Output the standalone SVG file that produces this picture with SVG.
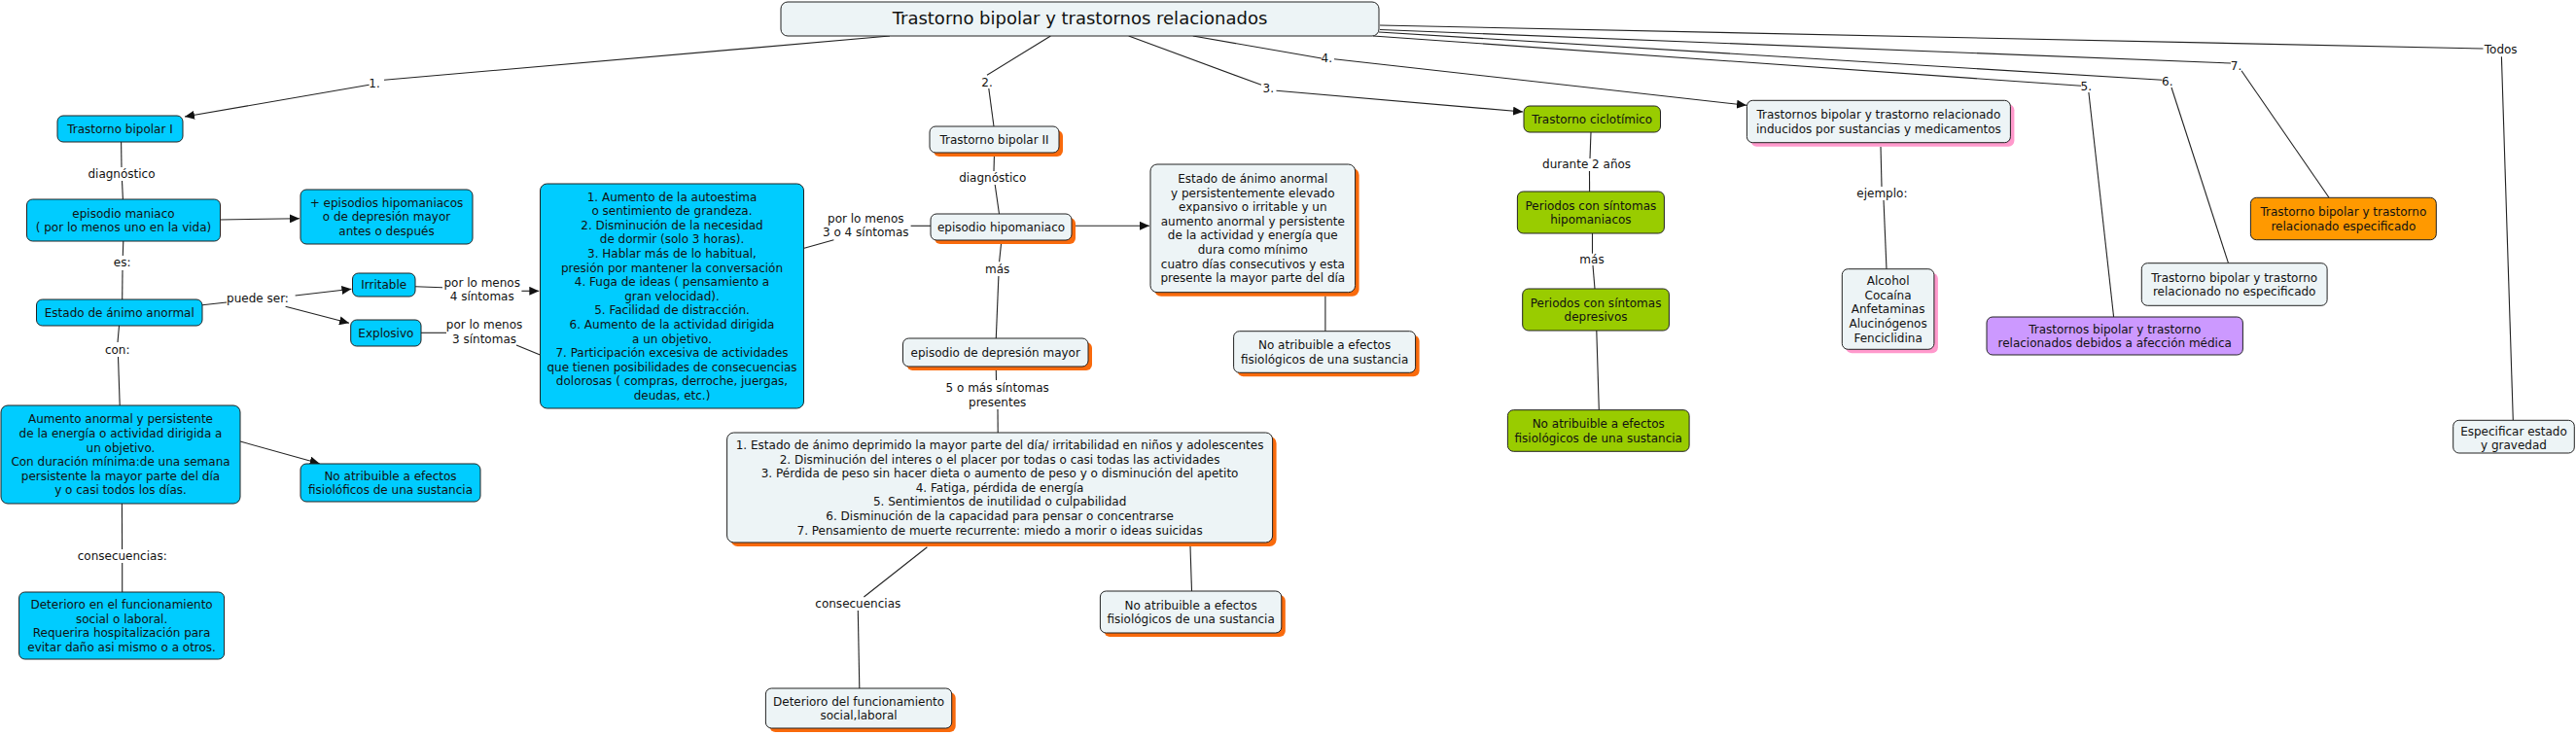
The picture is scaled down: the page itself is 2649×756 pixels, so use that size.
<svg xmlns="http://www.w3.org/2000/svg" width="2649" height="756" viewBox="0 0 2649 756">
<style>
text{font-family:"DejaVu Sans",Verdana,"Liberation Sans",sans-serif;font-size:12px;fill:#111;text-anchor:middle}
.title{font-size:18px}
.b{stroke:#222;stroke-width:1}
.cy{fill:#00ccff}
.lt{fill:#edf4f6}
.gr{fill:#99cc00}
.pu{fill:#cc99ff}
.or{fill:#ff9900}
.sho{fill:#f96a0c}
.shp{fill:#ff99cc}
#connectors path{stroke:#222;stroke-width:1.1;fill:none}
</style>
<defs>
<marker id="arr" viewBox="0 0 10 10" refX="10" refY="5" markerWidth="10" markerHeight="9" markerUnits="userSpaceOnUse" orient="auto" preserveAspectRatio="none"><path d="M0,0 L10,5 L0,10 z" fill="#111"/></marker>
</defs>
<rect width="2649" height="756" fill="#fff"/>

<g id="connectors">
<path d="M915,37 L395,82.3"/><path d="M379.6,87.3 L190,120" marker-end="url(#arr)"/>
<path d="M124.6,146 L125,172"/><path d="M125.5,186 L126.4,205"/>
<path d="M226,226 L308,224.7" marker-end="url(#arr)"/>
<path d="M126.8,248 L126.3,263"/><path d="M126,278 L125.7,308"/>
<path d="M208,313.7 L233,311"/>
<path d="M303.6,304 L361.4,297.3" marker-end="url(#arr)"/>
<path d="M293.6,315.3 L359,332.3" marker-end="url(#arr)"/>
<path d="M427,294.7 L455,295.7"/><path d="M536.4,299.3 L554.3,299.3" marker-end="url(#arr)"/>
<path d="M433,342.3 L459,342.3"/><path d="M531,355 L555.4,365"/>
<path d="M122.5,335 L121,352"/><path d="M121.5,367 L123.2,417"/>
<path d="M247,454 L328.6,476.7" marker-end="url(#arr)"/>
<path d="M125.4,518 L125.6,565"/><path d="M125.7,579 L125.7,609"/>
<path d="M1080.4,37 L1015,77.3"/><path d="M1016.8,91 L1022,130"/>
<path d="M1022.5,157 L1022,176"/><path d="M1023.2,190 L1027.5,220"/>
<path d="M957,232.3 L936.6,232.3"/><path d="M857.4,246.7 L827,255.3"/>
<path d="M1106,232.3 L1182,232.3" marker-end="url(#arr)"/>
<path d="M1029.5,251 L1027.6,269.3"/><path d="M1026.9,284 L1024.3,348"/>
<path d="M1024.3,381 L1024.5,391"/><path d="M1026,421 L1026.2,445"/>
<path d="M953.4,562.7 L888.4,614"/><path d="M882.3,628 L883.8,708"/>
<path d="M1224,562 L1225.5,608"/>
<path d="M1362.9,304.5 L1362.9,340.7"/>
<path d="M1160.7,37 L1297,87.3"/><path d="M1312.5,93.3 L1566,115" marker-end="url(#arr)"/>
<path d="M1226.8,37 L1359,60"/><path d="M1372,60.7 L1796,108.3" marker-end="url(#arr)"/>
<path d="M1636,136 L1635,163"/><path d="M1634.5,176 L1634.6,197"/>
<path d="M1637.5,240 L1637.5,260.7"/><path d="M1638,273 L1640,297"/>
<path d="M1641.8,340 L1644.3,421.7"/>
<path d="M1934,151 L1935,192"/><path d="M1937,206 L1940,276.7"/>
<path d="M1412,37 L2140,88.3"/><path d="M2147.9,95 L2173.6,326"/>
<path d="M1418,33 L2223.3,82.3"/><path d="M2233,90 L2291.5,270.7"/>
<path d="M1419,30.5 L2294,65"/><path d="M2305,72.7 L2395,203.3"/>
<path d="M1419,26 L2553.5,50"/><path d="M2572.4,58.3 L2584.3,432.3"/>
</g>

<g id="connector-labels">
<text x="385" y="90.3">1.</text>
<text x="125" y="183">diagnóstico</text>
<text x="125.7" y="274.3">es:</text>
<text x="265" y="311.3">puede ser:</text>
<text x="495.7" y="294.6">por lo menos<tspan x="495.7" dy="14.2">4 síntomas</tspan></text>
<text x="498" y="338.3">por lo menos<tspan x="498" dy="14.2">3 síntomas</tspan></text>
<text x="120.7" y="363.6">con:</text>
<text x="125.7" y="576">consecuencias:</text>
<text x="1015" y="88.6">2.</text>
<text x="1020.7" y="187">diagnóstico</text>
<text x="890.3" y="228.6">por lo menos<tspan x="890.3" dy="14.4">3 o 4 síntomas</tspan></text>
<text x="1025.7" y="281">más</text>
<text x="1025.7" y="403.3">5 o más síntomas<tspan x="1025.7" dy="14.3">presentes</tspan></text>
<text x="882.3" y="625">consecuencias</text>
<text x="1304.3" y="95">3.</text>
<text x="1364.3" y="63.6">4.</text>
<text x="1631.6" y="173">durante 2 años</text>
<text x="1637" y="271">más</text>
<text x="1935.4" y="202.6">ejemplo:</text>
<text x="2145.3" y="93.3">5.</text>
<text x="2228.8" y="87.6">6.</text>
<text x="2299.5" y="71.6">7.</text>
<text x="2571.7" y="55">Todos</text>
</g>

<g id="n-main"><rect class="b lt" x="803" y="2" width="615" height="35" rx="7"/>
<text class="title" x="1110.5" y="24.5">Trastorno bipolar y trastornos relacionados</text></g>

<g id="n-tb1"><rect class="b cy" x="59" y="119" width="129" height="27" rx="6"/>
<text x="123.5" y="136.8">Trastorno bipolar I</text></g>

<g id="n-maniaco"><rect class="b cy" x="27.5" y="205" width="199" height="43" rx="6"/>
<text x="127" y="223.5">episodio maniaco<tspan x="127" dy="14.6">( por lo menos uno en la vida)</tspan></text></g>

<g id="n-masepisodios"><rect class="b cy" x="309" y="195" width="177" height="56" rx="6"/>
<text x="397.5" y="212.7">+ episodios hipomaniacos<tspan x="397.5" dy="14.6">o de depresión mayor</tspan><tspan x="397.5" dy="14.6">antes o después</tspan></text></g>

<g id="n-estado"><rect class="b cy" x="37.5" y="308" width="170.5" height="27" rx="6"/>
<text x="122.75" y="325.8">Estado de ánimo anormal</text></g>

<g id="n-irritable"><rect class="b cy" x="362.5" y="281" width="64.5" height="24" rx="6"/>
<text x="394.75" y="297.3">Irritable</text></g>

<g id="n-explosivo"><rect class="b cy" x="360.7" y="329" width="72.3" height="27" rx="6"/>
<text x="396.85" y="346.8">Explosivo</text></g>

<g id="n-sintomas-mania"><rect class="b cy" x="555.5" y="189" width="271" height="231" rx="7"/>
<text x="691" y="206.6">1. Aumento de la autoestima<tspan x="691" dy="14.6">o sentimiento de grandeza.</tspan><tspan x="691" dy="14.6">2. Disminución de la necesidad</tspan><tspan x="691" dy="14.6">de dormir (solo 3 horas).</tspan><tspan x="691" dy="14.6">3. Hablar más de lo habitual,</tspan><tspan x="691" dy="14.6">presión por mantener la conversación</tspan><tspan x="691" dy="14.6">4. Fuga de ideas ( pensamiento a</tspan><tspan x="691" dy="14.6">gran velocidad).</tspan><tspan x="691" dy="14.6">5. Facilidad de distracción.</tspan><tspan x="691" dy="14.6">6. Aumento de la actividad dirigida</tspan><tspan x="691" dy="14.6">a un objetivo.</tspan><tspan x="691" dy="14.6">7. Participación excesiva de actividades</tspan><tspan x="691" dy="14.6">que tienen posibilidades de consecuencias</tspan><tspan x="691" dy="14.6">dolorosas ( compras, derroche, juergas,</tspan><tspan x="691" dy="14.6">deudas, etc.)</tspan></text></g>

<g id="n-aumento"><rect class="b cy" x="1" y="417" width="246" height="101" rx="7"/>
<text x="124" y="435.3">Aumento anormal y persistente<tspan x="124" dy="14.6">de la energía o actividad dirigida a</tspan><tspan x="124" dy="14.6">un objetivo.</tspan><tspan x="124" dy="14.6">Con duración mínima:de una semana</tspan><tspan x="124" dy="14.6">persistente la mayor parte del día</tspan><tspan x="124" dy="14.6">y o casi todos los días.</tspan></text></g>

<g id="n-noatrib1"><rect class="b cy" x="309" y="477" width="185" height="39" rx="6"/>
<text x="401.5" y="493.5">No atribuible a efectos<tspan x="401.5" dy="14.6">fisiolóficos de una sustancia</tspan></text></g>

<g id="n-deterioro1"><rect class="b cy" x="19.6" y="609" width="211" height="69" rx="6"/>
<text x="125.1" y="625.9">Deterioro en el funcionamiento<tspan x="125.1" dy="14.6">social o laboral.</tspan><tspan x="125.1" dy="14.6">Requerira hospitalización para</tspan><tspan x="125.1" dy="14.6">evitar daño asi mismo o a otros.</tspan></text></g>

<g id="n-tb2"><rect class="sho" x="960" y="134" width="133" height="27" rx="6"/><rect class="b lt" x="956" y="130" width="133" height="27" rx="6"/>
<text x="1022.5" y="147.8">Trastorno bipolar II</text></g>

<g id="n-hipomaniaco"><rect class="sho" x="961" y="224" width="145" height="27" rx="6"/><rect class="b lt" x="957" y="220" width="145" height="27" rx="6"/>
<text x="1029.5" y="237.8">episodio hipomaniaco</text></g>

<g id="n-elevado"><rect class="sho" x="1187" y="173" width="210.6" height="131.7" rx="7"/><rect class="b lt" x="1183" y="169" width="210.6" height="131.7" rx="7"/>
<text x="1288.3" y="188">Estado de ánimo anormal<tspan x="1288.3" dy="14.6">y persistentemente elevado</tspan><tspan x="1288.3" dy="14.6">expansivo o irritable y un</tspan><tspan x="1288.3" dy="14.6">aumento anormal y persistente</tspan><tspan x="1288.3" dy="14.6">de la actividad y energía que</tspan><tspan x="1288.3" dy="14.6">dura como mínimo</tspan><tspan x="1288.3" dy="14.6">cuatro días consecutivos y esta</tspan><tspan x="1288.3" dy="14.6">presente la mayor parte del día</tspan></text></g>

<g id="n-noatrib2"><rect class="sho" x="1272.6" y="344.7" width="187" height="42.6" rx="6"/><rect class="b lt" x="1268.6" y="340.7" width="187" height="42.6" rx="6"/>
<text x="1362.1" y="359">No atribuible a efectos<tspan x="1362.1" dy="14.6">fisiológicos de una sustancia</tspan></text></g>

<g id="n-depresion"><rect class="sho" x="932.5" y="352" width="190.5" height="29" rx="6"/><rect class="b lt" x="928.5" y="348" width="190.5" height="29" rx="6"/>
<text x="1023.75" y="366.8">episodio de depresión mayor</text></g>

<g id="n-sintomas-depresion"><rect class="sho" x="751.6" y="449" width="561" height="113" rx="7"/><rect class="b lt" x="747.6" y="445" width="561" height="113" rx="7"/>
<text x="1028.1" y="462">1. Estado de ánimo deprimido la mayor parte del día/ irritabilidad en niños y adolescentes<tspan x="1028.1" dy="14.6">2. Disminución del interes o el placer por todas o casi todas las actividades</tspan><tspan x="1028.1" dy="14.6">3. Pérdida de peso sin hacer dieta o aumento de peso y o disminución del apetito</tspan><tspan x="1028.1" dy="14.6">4. Fatiga, pérdida de energía</tspan><tspan x="1028.1" dy="14.6">5. Sentimientos de inutilidad o culpabilidad</tspan><tspan x="1028.1" dy="14.6">6. Disminución de la capacidad para pensar o concentrarse</tspan><tspan x="1028.1" dy="14.6">7. Pensamiento de muerte recurrente: miedo a morir o ideas suicidas</tspan></text></g>

<g id="n-deterioro2"><rect class="sho" x="791.4" y="712" width="191.3" height="41" rx="6"/><rect class="b lt" x="787.4" y="708" width="191.3" height="41" rx="6"/>
<text x="883.05" y="725.5">Deterioro del funcionamiento<tspan x="883.05" dy="14.6">social,laboral</tspan></text></g>

<g id="n-noatrib3"><rect class="sho" x="1135.4" y="612" width="186.4" height="43" rx="6"/><rect class="b lt" x="1131.4" y="608" width="186.4" height="43" rx="6"/>
<text x="1224.6" y="626.5">No atribuible a efectos<tspan x="1224.6" dy="14.6">fisiológicos de una sustancia</tspan></text></g>

<g id="n-ciclotimico"><rect class="b gr" x="1567" y="109" width="140.5" height="27" rx="6"/>
<text x="1637.25" y="126.8">Trastorno ciclotímico</text></g>

<g id="n-periodos-hipo"><rect class="b gr" x="1560.4" y="197" width="151" height="43" rx="6"/>
<text x="1635.9" y="215.5">Periodos con síntomas<tspan x="1635.9" dy="14.6">hipomaniacos</tspan></text></g>

<g id="n-periodos-dep"><rect class="b gr" x="1565.7" y="297" width="150.7" height="43" rx="6"/>
<text x="1641.05" y="315.5">Periodos con síntomas<tspan x="1641.05" dy="14.6">depresivos</tspan></text></g>

<g id="n-noatrib4"><rect class="b gr" x="1550.4" y="421.7" width="186.7" height="42.6" rx="6"/>
<text x="1643.75" y="440">No atribuible a efectos<tspan x="1643.75" dy="14.6">fisiológicos de una sustancia</tspan></text></g>

<g id="n-inducidos"><rect class="shp" x="1800.4" y="107.3" width="271" height="43.4" rx="6"/><rect class="b lt" x="1796.4" y="103.3" width="271" height="43.4" rx="6"/>
<text x="1931.9" y="122">Trastornos bipolar y trastorno relacionado<tspan x="1931.9" dy="14.6">inducidos por sustancias y medicamentos</tspan></text></g>

<g id="n-sustancias"><rect class="shp" x="1898.3" y="280.7" width="94.6" height="82.6" rx="6"/><rect class="b lt" x="1894.3" y="276.7" width="94.6" height="82.6" rx="6"/>
<text x="1941.6" y="293.1">Alcohol<tspan x="1941.6" dy="14.6">Cocaína</tspan><tspan x="1941.6" dy="14.6">Anfetaminas</tspan><tspan x="1941.6" dy="14.6">Alucinógenos</tspan><tspan x="1941.6" dy="14.6">Fenciclidina</tspan></text></g>

<g id="n-afeccion"><rect class="b pu" x="2043" y="326" width="263.4" height="39" rx="6"/>
<text x="2174.7" y="342.5">Trastornos bipolar y trastorno<tspan x="2174.7" dy="14.6">relacionados debidos a afección médica</tspan></text></g>

<g id="n-noespecificado"><rect class="b lt" x="2202.3" y="270.7" width="190.8" height="43.6" rx="6"/>
<text x="2297.7" y="289.5">Trastorno bipolar y trastorno<tspan x="2297.7" dy="14.6">relacionado no especificado</tspan></text></g>

<g id="n-especificado"><rect class="b or" x="2314.4" y="203.3" width="190.9" height="43.4" rx="6"/>
<text x="2409.85" y="222">Trastorno bipolar y trastorno<tspan x="2409.85" dy="14.6">relacionado especificado</tspan></text></g>

<g id="n-especificar"><rect class="b lt" x="2522.7" y="432.3" width="124.6" height="33.7" rx="6"/>
<text x="2585" y="447.5">Especificar estado<tspan x="2585" dy="14.6">y gravedad</tspan></text></g>
</svg>
